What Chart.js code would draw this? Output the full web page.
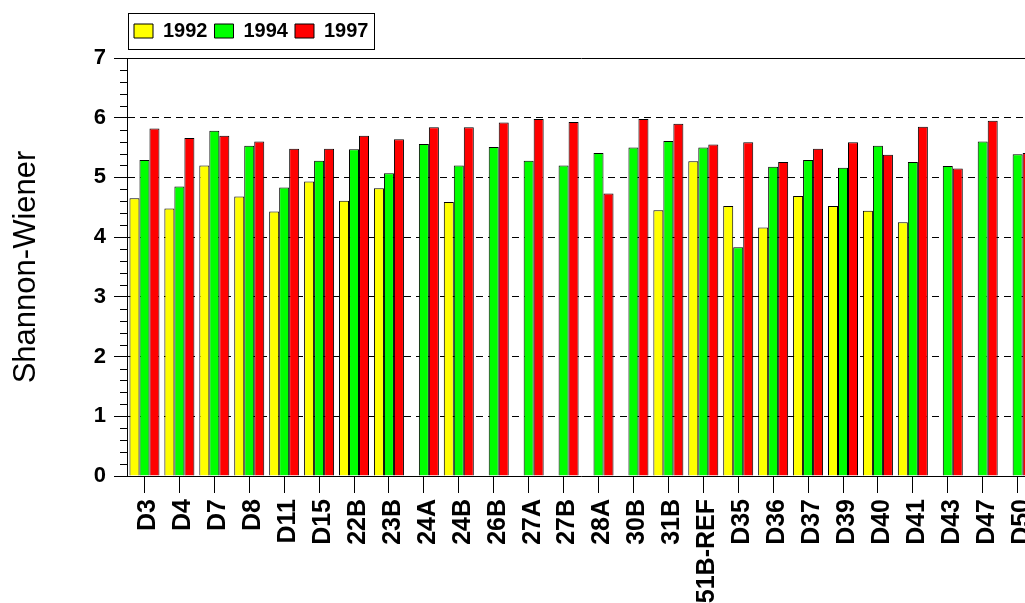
<!DOCTYPE html>
<html>
<head>
<meta charset="utf-8">
<script src="https://cdn.jsdelivr.net/npm/chart.js@4.4.1/dist/chart.umd.min.js"></script>
<style>
  html, body { margin: 0; padding: 0; background: #fff; overflow: hidden; }
  #wrap { position: absolute; left: 0; top: 0; width: 1054px; height: 603px; }
  canvas { display: block; }
</style>
</head>
<body>
<div id="wrap"><canvas id="c" width="1054" height="603"></canvas></div>
<script>
const categories = ['D3','D4','D7','D8','D11','D15','22B','23B','24A','24B','26B','27A','27B','28A','30B','31B','51B-REF','D35','D36','D37','D39','D40','D41','D43','D47','D50'];
const values1992 = [4.65,4.48,5.20,4.68,4.43,4.93,4.61,4.82,null,4.59,null,null,null,null,null,4.45,5.27,4.52,4.16,4.69,4.52,4.44,4.25,null,null,null];
const values1994 = [5.29,4.85,5.78,5.53,4.83,5.28,5.47,5.07,5.56,5.20,5.51,5.28,5.20,5.41,5.50,5.61,5.50,3.83,5.18,5.29,5.16,5.53,5.26,5.19,5.60,5.39];
const values1997 = [5.82,5.66,5.70,5.60,5.48,5.48,5.70,5.64,5.84,5.84,5.92,5.98,5.93,4.73,5.98,5.90,5.55,5.59,5.26,5.48,5.59,5.38,5.85,5.15,5.95,5.41];
const seriesNames = ['1992','1994','1997'];
const yMin = 0, yMax = 7, yMinorStep = 0.2;
const yTitle = 'Shannon-Wiener';

const FONT = "'Liberation Sans', Arial, sans-serif";
const isInt = v => Math.abs(v - Math.round(v)) < 1e-6;

const minorTicks = {
  id: 'minorTicks',
  afterDraw(chart) {
    const s = chart.scales.y, ctx = chart.ctx;
    ctx.save();
    ctx.strokeStyle = '#000';
    ctx.lineWidth = 1;
    for (let i = 0; i <= Math.round((yMax - yMin) / yMinorStep); i++) {
      const v = yMin + i * yMinorStep;
      if (isInt(v)) continue;
      const y = Math.round(s.getPixelForValue(v)) + 0.5;
      ctx.beginPath();
      ctx.moveTo(s.right - 7, y);
      ctx.lineTo(s.right, y);
      ctx.stroke();
    }
    ctx.restore();
  }
};

const legendBorder = {
  id: 'legendBorder',
  afterDraw(chart) {
    const lg = chart.legend;
    if (!lg || !lg.legendHitBoxes || !lg.legendHitBoxes.length) return;
    const hb = lg.legendHitBoxes;
    const last = hb[hb.length - 1];
    const x0 = hb[0].left - 6, x1 = last.left + last.width + 6;
    const cy = hb[0].top + hb[0].height / 2;
    const ctx = chart.ctx;
    ctx.save();
    ctx.strokeStyle = '#000';
    ctx.lineWidth = 1;
    ctx.strokeRect(Math.round(x0) + 0.5, Math.round(cy - 18) + 0.5, Math.round(x1 - x0), 36);
    ctx.restore();
  }
};

new Chart(document.getElementById('c'), {
  type: 'bar',
  data: {
    labels: categories,
    datasets: [
      { label: seriesNames[0], data: values1992, backgroundColor: '#FFFF00', borderColor: '#000', borderWidth: 1 },
      { label: seriesNames[1], data: values1994, backgroundColor: '#00FF00', borderColor: '#000', borderWidth: 1 },
      { label: seriesNames[2], data: values1997, backgroundColor: '#FF0000', borderColor: '#000', borderWidth: 1 }
    ]
  },
  options: {
    responsive: false,
    animation: false,
    devicePixelRatio: 1,
    layout: { padding: { top: 14, right: 14.8, left: 0, bottom: 0 } },
    datasets: { bar: { categoryPercentage: 0.859, barPercentage: 1.0 } },
    plugins: {
      tooltip: { enabled: false },
      title: { display: true, text: '', fullSize: false, position: 'top', weight: 500, padding: 0, font: { size: 7, lineHeight: 1 } },
      legend: {
        display: true,
        position: 'top',
        align: 'start',
        fullSize: false,
        labels: {
          boxWidth: 19, boxHeight: 14, padding: 7, color: '#000',
          font: { family: FONT, size: 20, weight: 'bold' }
        }
      }
    },
    scales: {
      x: {
        offset: true,
        grid: { display: true, offset: false, drawOnChartArea: false, drawTicks: true, tickLength: 17, tickWidth: 1, lineWidth: 1, tickColor: '#000', color: '#000' },
        border: { display: true, color: '#000', width: 1 },
        ticks: {
          autoSkip: false, minRotation: 90, maxRotation: 90, padding: 6, labelOffset: 4,
          color: '#000', font: { family: FONT, size: 25, weight: 'bold' }
        },
        afterFit(scale) { scale.height = 127; }
      },
      y: {
        min: yMin, max: yMax,
        ticks: {
          stepSize: yMinorStep,
          autoSkip: false,
          padding: 8,
          color: '#000',
          font: { family: FONT, size: 22, weight: 'bold' },
          callback: v => isInt(v) ? String(Math.round(v)) : ''
        },
        grid: {
          drawTicks: true,
          tickLength: 13,
          lineWidth: 1,
          color: ctx => {
            const v = ctx.tick ? ctx.tick.value : null;
            if (v === null || !isInt(v) || Math.round(v) === 0) return 'rgba(0,0,0,0)';
            return '#000';
          },
          tickColor: ctx => {
            const v = ctx.tick ? ctx.tick.value : null;
            return (v !== null && isInt(v)) ? '#000' : 'rgba(0,0,0,0)';
          }
        },
        border: {
          display: true, color: '#000', width: 1,
          dash: ctx => {
            const v = ctx.tick ? ctx.tick.value : null;
            return (v !== null && isInt(v) && Math.round(v) < 7) ? [7, 5] : [];
          }
        },
        title: {
          display: true, text: yTitle, color: '#000',
          font: { family: FONT, size: 31, weight: 'normal' },
          padding: { top: 8, bottom: 0 }
        },
        afterFit(scale) { scale.width = 127; }
      }
    }
  },
  plugins: [minorTicks, legendBorder]
});
</script>
</body>
</html>
